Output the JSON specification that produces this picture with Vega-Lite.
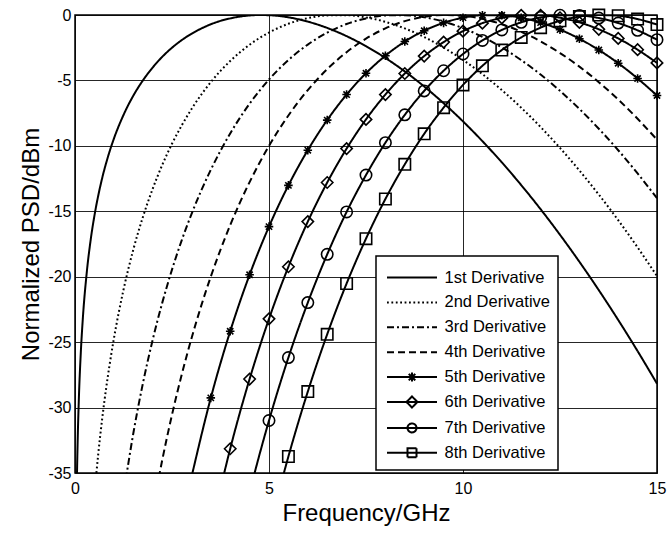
{
  "$schema": "https://vega.github.io/schema/vega-lite/v6.json",
  "width": 582,
  "height": 458,
  "autosize": {"type": "none"},
  "padding": {"left": 75, "top": 15, "right": 10, "bottom": 60},
  "background": "white",
  "config": {
    "font": "Liberation Sans",
    "view": {"stroke": "black", "strokeWidth": 1.5},
    "axis": {
      "grid": true, "gridColor": "#000", "gridWidth": 1, "gridOpacity": 0.85,
      "ticks": false, "tickSize": 0, "domain": false,
      "labelFont": "Liberation Sans", "labelFontSize": 16, "labelColor": "black", "labelFlush": false,
      "titleFont": "Liberation Sans", "titleFontSize": 24, "titleFontWeight": "normal", "titleColor": "black"
    }
  },
  "datasets": {
    "psd": [
      {"series": "1st Derivative", "freq": 0.04, "psd": -37.24},
      {"series": "1st Derivative", "freq": 0.05, "psd": -35.30},
      {"series": "1st Derivative", "freq": 0.07, "psd": -32.38},
      {"series": "1st Derivative", "freq": 0.1, "psd": -29.28},
      {"series": "1st Derivative", "freq": 0.15, "psd": -25.77},
      {"series": "1st Derivative", "freq": 0.2, "psd": -23.27},
      {"series": "1st Derivative", "freq": 0.3, "psd": -19.76},
      {"series": "1st Derivative", "freq": 0.4, "psd": -17.27},
      {"series": "1st Derivative", "freq": 0.5, "psd": -15.35},
      {"series": "1st Derivative", "freq": 0.6, "psd": -13.79},
      {"series": "1st Derivative", "freq": 0.7, "psd": -12.47},
      {"series": "1st Derivative", "freq": 0.8, "psd": -11.34},
      {"series": "1st Derivative", "freq": 0.9, "psd": -10.35},
      {"series": "1st Derivative", "freq": 1, "psd": -9.47},
      {"series": "1st Derivative", "freq": 1.25, "psd": -7.64},
      {"series": "1st Derivative", "freq": 1.5, "psd": -6.18},
      {"series": "1st Derivative", "freq": 1.75, "psd": -5.00},
      {"series": "1st Derivative", "freq": 2, "psd": -4.02},
      {"series": "1st Derivative", "freq": 2.25, "psd": -3.19},
      {"series": "1st Derivative", "freq": 2.5, "psd": -2.50},
      {"series": "1st Derivative", "freq": 2.75, "psd": -1.92},
      {"series": "1st Derivative", "freq": 3, "psd": -1.44},
      {"series": "1st Derivative", "freq": 3.25, "psd": -1.04},
      {"series": "1st Derivative", "freq": 3.5, "psd": -0.71},
      {"series": "1st Derivative", "freq": 3.75, "psd": -0.45},
      {"series": "1st Derivative", "freq": 4, "psd": -0.26},
      {"series": "1st Derivative", "freq": 4.25, "psd": -0.12},
      {"series": "1st Derivative", "freq": 4.5, "psd": -0.035},
      {"series": "1st Derivative", "freq": 4.75, "psd": -0.001},
      {"series": "1st Derivative", "freq": 5, "psd": -0.015},
      {"series": "1st Derivative", "freq": 5.5, "psd": -0.177},
      {"series": "1st Derivative", "freq": 6, "psd": -0.505},
      {"series": "1st Derivative", "freq": 6.5, "psd": -0.988},
      {"series": "1st Derivative", "freq": 7, "psd": -1.616},
      {"series": "1st Derivative", "freq": 7.5, "psd": -2.384},
      {"series": "1st Derivative", "freq": 8, "psd": -3.283},
      {"series": "1st Derivative", "freq": 8.5, "psd": -4.312},
      {"series": "1st Derivative", "freq": 9, "psd": -5.465},
      {"series": "1st Derivative", "freq": 9.5, "psd": -6.739},
      {"series": "1st Derivative", "freq": 10, "psd": -8.131},
      {"series": "1st Derivative", "freq": 10.5, "psd": -9.639},
      {"series": "1st Derivative", "freq": 11, "psd": -11.261},
      {"series": "1st Derivative", "freq": 11.5, "psd": -12.996},
      {"series": "1st Derivative", "freq": 12, "psd": -14.841},
      {"series": "1st Derivative", "freq": 12.5, "psd": -16.796},
      {"series": "1st Derivative", "freq": 13, "psd": -18.858},
      {"series": "1st Derivative", "freq": 13.5, "psd": -21.027},
      {"series": "1st Derivative", "freq": 14, "psd": -23.303},
      {"series": "1st Derivative", "freq": 14.5, "psd": -25.685},
      {"series": "1st Derivative", "freq": 15, "psd": -28.17},

      {"series": "2nd Derivative", "freq": 0.5, "psd": -36.67},
      {"series": "2nd Derivative", "freq": 0.6, "psd": -33.53},
      {"series": "2nd Derivative", "freq": 0.7, "psd": -30.87},
      {"series": "2nd Derivative", "freq": 0.8, "psd": -28.58},
      {"series": "2nd Derivative", "freq": 0.9, "psd": -26.57},
      {"series": "2nd Derivative", "freq": 1, "psd": -24.77},
      {"series": "2nd Derivative", "freq": 1.25, "psd": -21.00},
      {"series": "2nd Derivative", "freq": 1.5, "psd": -17.96},
      {"series": "2nd Derivative", "freq": 1.75, "psd": -15.44},
      {"series": "2nd Derivative", "freq": 2, "psd": -13.30},
      {"series": "2nd Derivative", "freq": 2.25, "psd": -11.45},
      {"series": "2nd Derivative", "freq": 2.5, "psd": -9.84},
      {"series": "2nd Derivative", "freq": 2.75, "psd": -8.44},
      {"series": "2nd Derivative", "freq": 3, "psd": -7.20},
      {"series": "2nd Derivative", "freq": 3.25, "psd": -6.10},
      {"series": "2nd Derivative", "freq": 3.5, "psd": -5.13},
      {"series": "2nd Derivative", "freq": 3.75, "psd": -4.27},
      {"series": "2nd Derivative", "freq": 4, "psd": -3.52},
      {"series": "2nd Derivative", "freq": 4.5, "psd": -2.27},
      {"series": "2nd Derivative", "freq": 5, "psd": -1.34},
      {"series": "2nd Derivative", "freq": 5.5, "psd": -0.67},
      {"series": "2nd Derivative", "freq": 6, "psd": -0.24},
      {"series": "2nd Derivative", "freq": 6.5, "psd": -0.03},
      {"series": "2nd Derivative", "freq": 7, "psd": -0.016},
      {"series": "2nd Derivative", "freq": 7.5, "psd": -0.185},
      {"series": "2nd Derivative", "freq": 8, "psd": -0.523},
      {"series": "2nd Derivative", "freq": 8.5, "psd": -1.026},
      {"series": "2nd Derivative", "freq": 9, "psd": -1.682},
      {"series": "2nd Derivative", "freq": 9.5, "psd": -2.487},
      {"series": "2nd Derivative", "freq": 10, "psd": -3.433},
      {"series": "2nd Derivative", "freq": 10.5, "psd": -4.517},
      {"series": "2nd Derivative", "freq": 11, "psd": -5.735},
      {"series": "2nd Derivative", "freq": 11.5, "psd": -7.084},
      {"series": "2nd Derivative", "freq": 12, "psd": -8.559},
      {"series": "2nd Derivative", "freq": 12.5, "psd": -10.16},
      {"series": "2nd Derivative", "freq": 13, "psd": -11.881},
      {"series": "2nd Derivative", "freq": 13.5, "psd": -13.722},
      {"series": "2nd Derivative", "freq": 14, "psd": -15.682},
      {"series": "2nd Derivative", "freq": 14.5, "psd": -17.76},
      {"series": "2nd Derivative", "freq": 15, "psd": -19.95},

      {"series": "3rd Derivative", "freq": 1.25, "psd": -36.64},
      {"series": "3rd Derivative", "freq": 1.5, "psd": -32.02},
      {"series": "3rd Derivative", "freq": 1.75, "psd": -28.15},
      {"series": "3rd Derivative", "freq": 2, "psd": -24.85},
      {"series": "3rd Derivative", "freq": 2.25, "psd": -21.98},
      {"series": "3rd Derivative", "freq": 2.5, "psd": -19.46},
      {"series": "3rd Derivative", "freq": 2.75, "psd": -17.22},
      {"series": "3rd Derivative", "freq": 3, "psd": -15.23},
      {"series": "3rd Derivative", "freq": 3.25, "psd": -13.44},
      {"series": "3rd Derivative", "freq": 3.5, "psd": -11.83},
      {"series": "3rd Derivative", "freq": 3.75, "psd": -10.37},
      {"series": "3rd Derivative", "freq": 4, "psd": -9.05},
      {"series": "3rd Derivative", "freq": 4.5, "psd": -6.78},
      {"series": "3rd Derivative", "freq": 5, "psd": -4.93},
      {"series": "3rd Derivative", "freq": 5.5, "psd": -3.44},
      {"series": "3rd Derivative", "freq": 6, "psd": -2.26},
      {"series": "3rd Derivative", "freq": 6.5, "psd": -1.35},
      {"series": "3rd Derivative", "freq": 7, "psd": -0.69},
      {"series": "3rd Derivative", "freq": 7.5, "psd": -0.26},
      {"series": "3rd Derivative", "freq": 8, "psd": -0.036},
      {"series": "3rd Derivative", "freq": 8.5, "psd": -0.013},
      {"series": "3rd Derivative", "freq": 9, "psd": -0.172},
      {"series": "3rd Derivative", "freq": 9.5, "psd": -0.508},
      {"series": "3rd Derivative", "freq": 10, "psd": -1.008},
      {"series": "3rd Derivative", "freq": 10.5, "psd": -1.668},
      {"series": "3rd Derivative", "freq": 11, "psd": -2.482},
      {"series": "3rd Derivative", "freq": 11.5, "psd": -3.445},
      {"series": "3rd Derivative", "freq": 12, "psd": -4.55},
      {"series": "3rd Derivative", "freq": 12.5, "psd": -5.797},
      {"series": "3rd Derivative", "freq": 13, "psd": -7.177},
      {"series": "3rd Derivative", "freq": 13.5, "psd": -8.69},
      {"series": "3rd Derivative", "freq": 14, "psd": -10.334},
      {"series": "3rd Derivative", "freq": 14.5, "psd": -12.108},
      {"series": "3rd Derivative", "freq": 15, "psd": -14.003},

      {"series": "4th Derivative", "freq": 2, "psd": -37.88},
      {"series": "4th Derivative", "freq": 2.25, "psd": -33.99},
      {"series": "4th Derivative", "freq": 2.5, "psd": -30.55},
      {"series": "4th Derivative", "freq": 2.75, "psd": -27.49},
      {"series": "4th Derivative", "freq": 3, "psd": -24.74},
      {"series": "4th Derivative", "freq": 3.25, "psd": -22.25},
      {"series": "4th Derivative", "freq": 3.5, "psd": -19.99},
      {"series": "4th Derivative", "freq": 3.75, "psd": -17.94},
      {"series": "4th Derivative", "freq": 4, "psd": -16.06},
      {"series": "4th Derivative", "freq": 4.25, "psd": -14.34},
      {"series": "4th Derivative", "freq": 4.5, "psd": -12.77},
      {"series": "4th Derivative", "freq": 4.75, "psd": -11.33},
      {"series": "4th Derivative", "freq": 5, "psd": -10.0},
      {"series": "4th Derivative", "freq": 5.5, "psd": -7.68},
      {"series": "4th Derivative", "freq": 6, "psd": -5.74},
      {"series": "4th Derivative", "freq": 6.5, "psd": -4.14},
      {"series": "4th Derivative", "freq": 7, "psd": -2.84},
      {"series": "4th Derivative", "freq": 7.5, "psd": -1.81},
      {"series": "4th Derivative", "freq": 8, "psd": -1.02},
      {"series": "4th Derivative", "freq": 8.5, "psd": -0.47},
      {"series": "4th Derivative", "freq": 9, "psd": -0.136},
      {"series": "4th Derivative", "freq": 9.5, "psd": -0.003},
      {"series": "4th Derivative", "freq": 10, "psd": -0.057},
      {"series": "4th Derivative", "freq": 10.5, "psd": -0.293},
      {"series": "4th Derivative", "freq": 11, "psd": -0.703},
      {"series": "4th Derivative", "freq": 11.5, "psd": -1.28},
      {"series": "4th Derivative", "freq": 12, "psd": -2.015},
      {"series": "4th Derivative", "freq": 12.5, "psd": -2.908},
      {"series": "4th Derivative", "freq": 13, "psd": -3.947},
      {"series": "4th Derivative", "freq": 13.5, "psd": -5.132},
      {"series": "4th Derivative", "freq": 14, "psd": -6.46},
      {"series": "4th Derivative", "freq": 14.5, "psd": -7.93},
      {"series": "4th Derivative", "freq": 15, "psd": -9.53},

      {"series": "5th Derivative", "freq": 3, "psd": -35.34},
      {"series": "5th Derivative", "freq": 3.5, "psd": -29.26},
      {"series": "5th Derivative", "freq": 4, "psd": -24.17},
      {"series": "5th Derivative", "freq": 4.5, "psd": -19.85},
      {"series": "5th Derivative", "freq": 5, "psd": -16.17},
      {"series": "5th Derivative", "freq": 5.5, "psd": -13.02},
      {"series": "5th Derivative", "freq": 6, "psd": -10.33},
      {"series": "5th Derivative", "freq": 6.5, "psd": -8.03},
      {"series": "5th Derivative", "freq": 7, "psd": -6.08},
      {"series": "5th Derivative", "freq": 7.5, "psd": -4.45},
      {"series": "5th Derivative", "freq": 8, "psd": -3.11},
      {"series": "5th Derivative", "freq": 8.5, "psd": -2.03},
      {"series": "5th Derivative", "freq": 9, "psd": -1.2},
      {"series": "5th Derivative", "freq": 9.5, "psd": -0.6},
      {"series": "5th Derivative", "freq": 10, "psd": -0.204},
      {"series": "5th Derivative", "freq": 10.5, "psd": -0.016},
      {"series": "5th Derivative", "freq": 11, "psd": -0.022},
      {"series": "5th Derivative", "freq": 11.5, "psd": -0.213},
      {"series": "5th Derivative", "freq": 12, "psd": -0.578},
      {"series": "5th Derivative", "freq": 12.5, "psd": -1.117},
      {"series": "5th Derivative", "freq": 13, "psd": -1.815},
      {"series": "5th Derivative", "freq": 13.5, "psd": -2.672},
      {"series": "5th Derivative", "freq": 14, "psd": -3.684},
      {"series": "5th Derivative", "freq": 14.5, "psd": -4.85},
      {"series": "5th Derivative", "freq": 15, "psd": -6.155},

      {"series": "6th Derivative", "freq": 3.5, "psd": -39.41},
      {"series": "6th Derivative", "freq": 4, "psd": -33.15},
      {"series": "6th Derivative", "freq": 4.5, "psd": -27.82},
      {"series": "6th Derivative", "freq": 5, "psd": -23.22},
      {"series": "6th Derivative", "freq": 5.5, "psd": -19.24},
      {"series": "6th Derivative", "freq": 6, "psd": -15.79},
      {"series": "6th Derivative", "freq": 6.5, "psd": -12.8},
      {"series": "6th Derivative", "freq": 7, "psd": -10.21},
      {"series": "6th Derivative", "freq": 7.5, "psd": -7.98},
      {"series": "6th Derivative", "freq": 8, "psd": -6.08},
      {"series": "6th Derivative", "freq": 8.5, "psd": -4.47},
      {"series": "6th Derivative", "freq": 9, "psd": -3.14},
      {"series": "6th Derivative", "freq": 9.5, "psd": -2.07},
      {"series": "6th Derivative", "freq": 10, "psd": -1.233},
      {"series": "6th Derivative", "freq": 10.5, "psd": -0.621},
      {"series": "6th Derivative", "freq": 11, "psd": -0.223},
      {"series": "6th Derivative", "freq": 11.5, "psd": -0.028},
      {"series": "6th Derivative", "freq": 12, "psd": -0.023},
      {"series": "6th Derivative", "freq": 12.5, "psd": -0.208},
      {"series": "6th Derivative", "freq": 13, "psd": -0.565},
      {"series": "6th Derivative", "freq": 13.5, "psd": -1.094},
      {"series": "6th Derivative", "freq": 14, "psd": -1.79},
      {"series": "6th Derivative", "freq": 14.5, "psd": -2.652},
      {"series": "6th Derivative", "freq": 15, "psd": -3.662},

      {"series": "7th Derivative", "freq": 4, "psd": -42.86},
      {"series": "7th Derivative", "freq": 4.5, "psd": -36.5},
      {"series": "7th Derivative", "freq": 5, "psd": -30.99},
      {"series": "7th Derivative", "freq": 5.5, "psd": -26.18},
      {"series": "7th Derivative", "freq": 6, "psd": -21.98},
      {"series": "7th Derivative", "freq": 6.5, "psd": -18.29},
      {"series": "7th Derivative", "freq": 7, "psd": -15.05},
      {"series": "7th Derivative", "freq": 7.5, "psd": -12.23},
      {"series": "7th Derivative", "freq": 8, "psd": -9.76},
      {"series": "7th Derivative", "freq": 8.5, "psd": -7.63},
      {"series": "7th Derivative", "freq": 9, "psd": -5.8},
      {"series": "7th Derivative", "freq": 9.5, "psd": -4.26},
      {"series": "7th Derivative", "freq": 10, "psd": -2.98},
      {"series": "7th Derivative", "freq": 10.5, "psd": -1.944},
      {"series": "7th Derivative", "freq": 11, "psd": -1.142},
      {"series": "7th Derivative", "freq": 11.5, "psd": -0.561},
      {"series": "7th Derivative", "freq": 12, "psd": -0.186},
      {"series": "7th Derivative", "freq": 12.5, "psd": -0.017},
      {"series": "7th Derivative", "freq": 13, "psd": -0.033},
      {"series": "7th Derivative", "freq": 13.5, "psd": -0.234},
      {"series": "7th Derivative", "freq": 14, "psd": -0.614},
      {"series": "7th Derivative", "freq": 14.5, "psd": -1.172},
      {"series": "7th Derivative", "freq": 15, "psd": -1.887},

      {"series": "8th Derivative", "freq": 5, "psd": -39.38},
      {"series": "8th Derivative", "freq": 5.5, "psd": -33.74},
      {"series": "8th Derivative", "freq": 6, "psd": -28.78},
      {"series": "8th Derivative", "freq": 6.5, "psd": -24.4},
      {"series": "8th Derivative", "freq": 7, "psd": -20.52},
      {"series": "8th Derivative", "freq": 7.5, "psd": -17.09},
      {"series": "8th Derivative", "freq": 8, "psd": -14.06},
      {"series": "8th Derivative", "freq": 8.5, "psd": -11.41},
      {"series": "8th Derivative", "freq": 9, "psd": -9.08},
      {"series": "8th Derivative", "freq": 9.5, "psd": -7.08},
      {"series": "8th Derivative", "freq": 10, "psd": -5.345},
      {"series": "8th Derivative", "freq": 10.5, "psd": -3.885},
      {"series": "8th Derivative", "freq": 11, "psd": -2.679},
      {"series": "8th Derivative", "freq": 11.5, "psd": -1.712},
      {"series": "8th Derivative", "freq": 12, "psd": -0.967},
      {"series": "8th Derivative", "freq": 12.5, "psd": -0.444},
      {"series": "8th Derivative", "freq": 13, "psd": -0.119},
      {"series": "8th Derivative", "freq": 13.5, "psd": -0.002},
      {"series": "8th Derivative", "freq": 14, "psd": -0.056},
      {"series": "8th Derivative", "freq": 14.5, "psd": -0.31},
      {"series": "8th Derivative", "freq": 15, "psd": -0.73}
    ]
  },
  "data": {"name": "psd"},
  "layer": [
    {
      "mark": {"type": "line", "clip": true, "strokeWidth": 2, "color": "black", "interpolate": "monotone"},
      "encoding": {
        "x": {
          "field": "freq", "type": "quantitative",
          "scale": {"domain": [0, 15], "nice": false, "zero": false},
          "axis": {"values": [0, 5, 10, 15], "title": "Frequency/GHz", "labelPadding": 7, "titleY": 47, "titleBaseline": "alphabetic"}
        },
        "y": {
          "field": "psd", "type": "quantitative",
          "scale": {"domain": [-35, 0], "nice": false, "zero": false},
          "axis": {"values": [-35, -30, -25, -20, -15, -10, -5, 0], "labelExpr": "'' + datum.value", "title": "Normalized PSD/dBm", "labelPadding": 4, "titleX": -37, "titleBaseline": "alphabetic"}
        },
        "strokeDash": {
          "field": "series", "type": "nominal",
          "scale": {
            "domain": ["1st Derivative", "2nd Derivative", "3rd Derivative", "4th Derivative", "5th Derivative", "6th Derivative", "7th Derivative", "8th Derivative"],
            "range": [[1, 0], [1.8, 2.6], [7, 3, 2, 3], [7, 4], [1, 0], [1, 0], [1, 0], [1, 0]]
          },
          "legend": {
            "title": null,
            "orient": "none",
            "legendX": 301,
            "legendY": 241,
            "strokeColor": "black",
            "fillColor": "white",
            "padding": 8,
            "cornerRadius": 0,
            "symbolSize": 625,
            "symbolStrokeWidth": 2,
            "symbolStrokeColor": "black",
            "symbolFillColor": "transparent",
            "symbolOffset": 14.5,
            "labelOffset": 19,
            "labelFont": "Liberation Sans",
            "labelFontSize": 16.5,
            "labelColor": "black",
            "labelLimit": 300,
            "rowPadding": 2.9,
            "encode": {
              "legend": {"update": {"strokeWidth": {"value": 1.5}}},
              "symbols": {
                "update": {
                  "shape": {"signal": "datum.value === '5th Derivative' ? 'M-2,0L2,0M0,-0.36L0,0.36M-0.36,0L0.36,0M-0.26,-0.26L0.26,0.26M-0.26,0.26L0.26,-0.26' : datum.value === '6th Derivative' ? 'M-2,0L2,0M0,-0.44L0.44,0L0,0.44L-0.44,0Z' : datum.value === '7th Derivative' ? 'M-2,0L2,0M0.36,0A0.36,0.36,0,1,1,-0.36,0A0.36,0.36,0,1,1,0.36,0' : datum.value === '8th Derivative' ? 'M-2,0L2,0M-0.36,-0.36L0.36,-0.36L0.36,0.36L-0.36,0.36Z' : 'M-2,0L2,0'"}
                }
              }
            }
          }
        }
      }
    },
    {
      "transform": [
        {"filter": {"field": "series", "oneOf": ["5th Derivative", "6th Derivative", "7th Derivative", "8th Derivative"]}},
        {"filter": "datum.psd >= -35"}
      ],
      "mark": {"type": "point", "filled": false, "stroke": "black", "strokeWidth": 1.6, "size": 130, "opacity": 1},
      "encoding": {
        "x": {"field": "freq", "type": "quantitative"},
        "y": {"field": "psd", "type": "quantitative"},
        "shape": {
          "field": "series", "type": "nominal",
          "scale": {
            "domain": ["5th Derivative", "6th Derivative", "7th Derivative", "8th Derivative"],
            "range": ["M0,-0.75L0,0.75M-0.75,0L0.75,0M-0.55,-0.55L0.55,0.55M-0.55,0.55L0.55,-0.55", "diamond", "circle", "square"]
          },
          "legend": null
        }
      }
    }
  ]
}
